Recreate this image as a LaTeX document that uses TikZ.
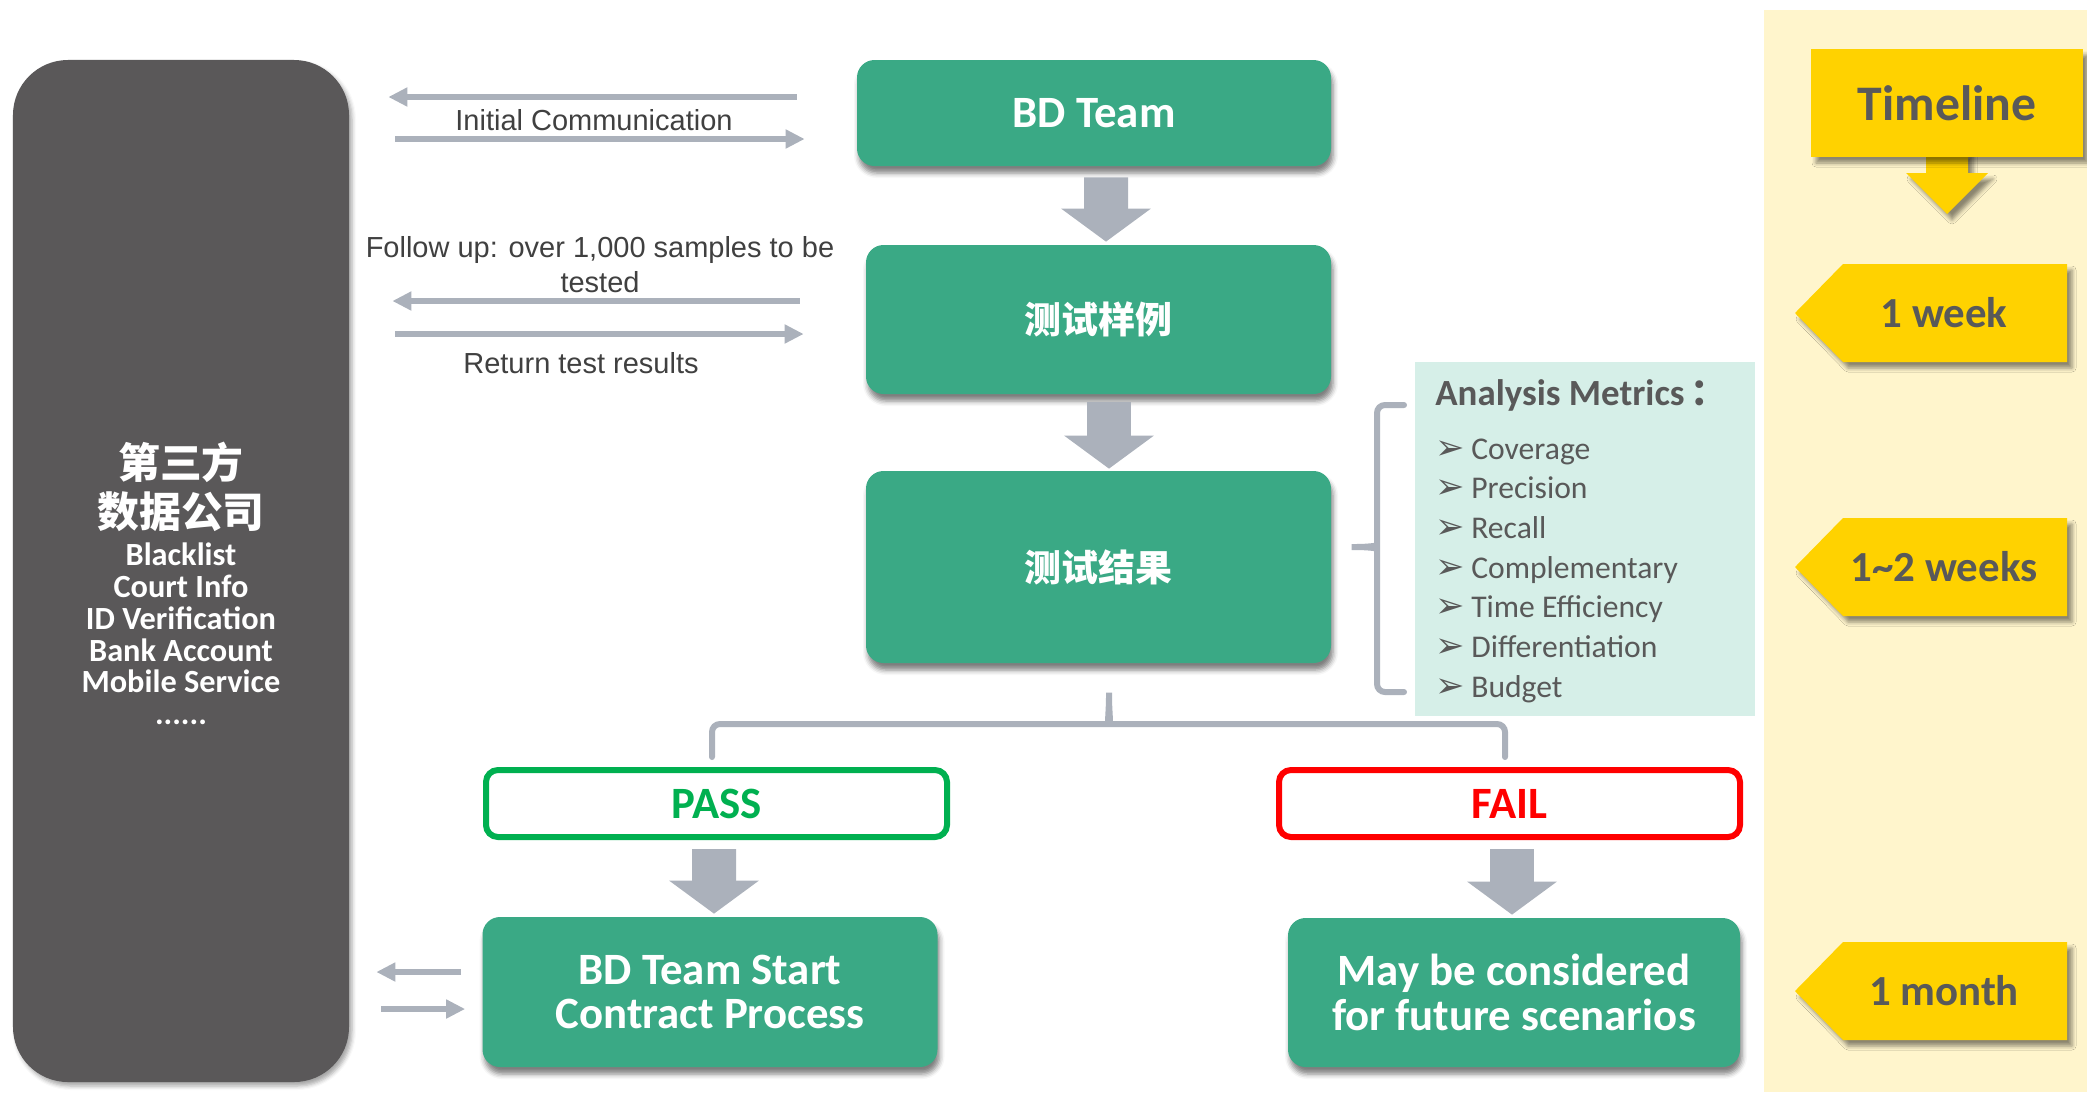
\documentclass[tikz,border=0pt]{standalone}
\usepackage{fontspec}
\setmainfont{Carlito}
\newfontfamily\arialfont{Liberation Sans}
\newfontfamily\cjkfont{Noto Sans CJK SC}
\newfontfamily\dejavu{DejaVu Sans}
\usetikzlibrary{arrows.meta,calc,shadows.blur}
\definecolor{boxgreen}{HTML}{3AA985}
\definecolor{darkbox}{HTML}{5A5859}
\definecolor{flowgray}{HTML}{ABB1BB}
\definecolor{mint}{HTML}{D6EFE8}
\definecolor{paleyellow}{HTML}{FFF5CC}
\definecolor{gold}{HTML}{FFD200}
\definecolor{passgreen}{HTML}{00B050}
\definecolor{failred}{HTML}{FF0000}
\definecolor{labelgray}{HTML}{404040}
\definecolor{metricgray}{HTML}{595959}

\begin{document}
\begin{tikzpicture}[x=0.2mm,y=0.2mm]
\tikzstyle{every node}+=[inner sep=0pt]
\tikzstyle{greenbox}=[fill=boxgreen, rounded corners=3.5mm, text=white, align=center, font=\bfseries\fontsize{25.5}{25.5}\selectfont, blur shadow={shadow xshift=0.4mm, shadow yshift=-1.4mm, shadow blur radius=1mm, shadow opacity=50}]
\tikzstyle{cjkbox}=[greenbox, font=\cjkfont\bfseries\fontsize{21}{21}\selectfont]
\tikzstyle{verdict}=[fill=white, line width=1.2mm, rounded corners=2.4mm, minimum width=92.2mm, minimum height=13.4mm, font=\bfseries\fontsize{25.5}{25.5}\selectfont]
\tikzstyle{bigarrow}=[draw=flowgray, line width=8.8mm, -{Triangle[width=17.6mm,length=6.6mm]}]
\tikzstyle{flow}=[draw=flowgray, line width=1.2mm, -{Triangle[width=3.6mm,length=3.8mm]}]
\tikzstyle{curly}=[draw=flowgray, line width=1.2mm, line cap=round, rounded corners=1.6mm]
\tikzstyle{msglabel}=[text=labelgray, align=center, font=\arialfont\fontsize{16.5}{19.8}\selectfont]
\tikzstyle{metric}=[anchor=base west, text=metricgray, font=\fontsize{18}{18}\selectfont]
\tikzstyle{timetext}=[text=metricgray, font=\bfseries\fontsize{24.4}{24.4}\selectfont]
\tikzstyle{goldshadow}=[blur shadow={shadow xshift=1mm, shadow yshift=-1.2mm, shadow blur radius=0.8mm, shadow opacity=45}]
\useasboundingbox (0,0) rectangle (2087,-1092);
\fill[paleyellow] (1764,-10) rectangle (2087,-1092);

\node[fill=darkbox, rounded corners=11mm, minimum width=67.2mm, minimum height=204.4mm, blur shadow={shadow xshift=0.6mm, shadow yshift=-0.8mm, shadow blur radius=0.8mm, shadow opacity=35}] (src) at (181,-571) {};
\node[text=white, align=center, font=\cjkfont\bfseries\fontsize{23.8}{27.8}\selectfont] (srchead) at (181,-487) {第三方\\数据公司};
\node[text=white, align=center, font=\bfseries\fontsize{18.4}{18.1}\selectfont] (srclist) at (181,-634) {Blacklist\\Court Info\\ID Verification\\Bank Account\\Mobile Service\\......};

\node[greenbox, minimum width=94.8mm, minimum height=21.2mm] (bd) at (1094,-113) {BD Team};
\node[cjkbox, minimum width=93mm, minimum height=29.8mm] (sample) at (1098.5,-319.5) {测试样例};
\node[cjkbox, minimum width=93mm, minimum height=38.4mm] (result) at (1098.5,-567) {测试结果};
\node[verdict, draw=passgreen, text=passgreen] (pass) at (716.5,-803.5) {PASS};
\node[verdict, draw=failred, text=failred] (fail) at (1509.5,-803.5) {FAIL};
\node[greenbox, minimum width=91mm, minimum height=30mm] (contract) at (710,-992) {BD Team Start\\Contract Process};
\node[greenbox, minimum width=90.4mm, minimum height=29.8mm] (future) at (1514,-992.5) {May be considered\\for future scenarios};

\draw[bigarrow] ([xshift=2.4mm,yshift=-2.2mm]bd.south) -- ([xshift=1.5mm,yshift=0.6mm]sample.north);
\draw[bigarrow] ([xshift=2.1mm,yshift=-1.6mm]sample.south) -- ([xshift=2.1mm,yshift=0.4mm]result.north);
\draw[bigarrow] ([xshift=-0.5mm,yshift=-1.8mm]pass.south) -- ([xshift=0.8mm,yshift=0.6mm]contract.north);
\draw[bigarrow] ([xshift=0.5mm,yshift=-1.8mm]fail.south) -- ([xshift=-0.4mm,yshift=0.6mm]future.north);

\draw[flow] ($(bd.west)+(-60,16)$) -- ($(src.east |- bd.west)+(39,16)$);
\draw[flow] ($(src.east |- bd.west)+(46,-26)$) -- ($(bd.west)+(-52,-26)$);
\draw[flow] ($(sample.west)+(-66,18.5)$) -- ($(src.east |- sample.west)+(43,18.5)$);
\draw[flow] ($(src.east |- sample.west)+(46,-14.5)$) -- ($(sample.west)+(-62,-14.5)$);
\draw[flow] ($(contract.west)+(-21,20)$) -- ($(src.east |- contract.west)+(27,20)$);
\draw[flow] ($(src.east |- contract.west)+(32,-17)$) -- ($(contract.west)+(-17,-17)$);
\node[msglabel] (initlbl) at (594,-120) {Initial Communication};
\node[msglabel] (followlbl) at (600,-265) {Follow up: over 1,000 samples to be\\tested};
\node[msglabel] (returnlbl) at (581,-363) {Return test results};

\draw[curly] (712,-757) -- (712,-724) -- (1101,-724) .. controls (1107,-724) and (1109,-712) .. (1109,-688) .. controls (1109,-712) and (1111,-724) .. (1117,-724) -- (1505,-724) -- (1505,-757);

\node[fill=mint, minimum width=68mm, minimum height=70.8mm] (metrics) at (1585,-539) {};
\draw[curly] (1404,-405) -- (1377,-405) -- (1377,-538) .. controls (1377,-545) and (1372,-547) .. (1347,-547) .. controls (1372,-547) and (1377,-549) .. (1377,-556) -- (1377,-692) -- (1404,-692);
\node[metric, font=\bfseries\fontsize{21}{21}\selectfont] (mtitle) at (1435,-405) {Analysis Metrics\hspace{1.2mm}{\cjkfont ：}};
\foreach \m [count=\i] in {Coverage,Precision,Recall,Complementary,Time Efficiency,Differentiation,Budget}
  \node[metric] (m\i) at (1435,{-459-39.7*(\i-1)}) {{\dejavu\fontsize{20}{18}\selectfont\symbol{"27A2}}\hspace{1.3mm}\m};

\fill[gold, goldshadow] (1926,-150) -- (1926,-173) -- (1906,-173) -- (1947,-214) -- (1988,-173) -- (1968,-173) -- (1968,-150) -- cycle;
\node[fill=gold, minimum width=54.4mm, minimum height=21.6mm, goldshadow, timetext, font=\bfseries\fontsize{28.3}{28.3}\selectfont] (timeline) at (1947,-103) {Timeline};
\foreach \y/\t/\n in {313/1 week/week, 567/1\textasciitilde2 weeks/weeks, 991/1 month/month} {
  \fill[gold, goldshadow] (1795,-\y) -- (1843,{-\y+49}) -- (2067,{-\y+49}) -- (2067,{-\y-49}) -- (1843,{-\y-49}) -- cycle;
  \node[timetext] (\n) at (1944,-\y) {\t};
}
\end{tikzpicture}
\end{document}
